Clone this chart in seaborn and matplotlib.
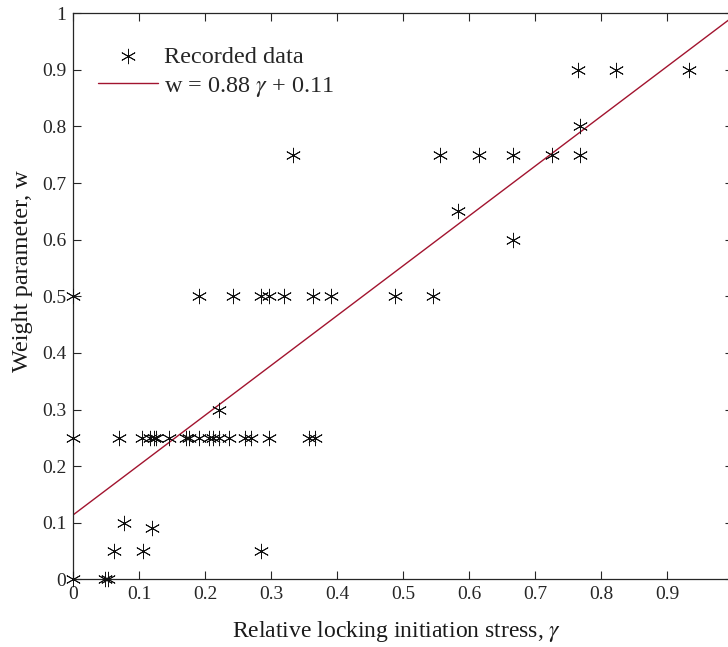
import numpy as np
import pandas as pd
import matplotlib
matplotlib.use("Agg")
import matplotlib.pyplot as plt
import seaborn as sns

# Recorded data (relative locking initiation stress gamma, weight parameter w)
gamma = [0.0, 0.048, 0.052,
         0.062, 0.106, 0.285,
         0.119,
         0.077,
         0.0, 0.07, 0.104, 0.117, 0.122, 0.125, 0.145, 0.171, 0.176, 0.19,
         0.205, 0.212, 0.221, 0.236, 0.26, 0.27, 0.296, 0.357, 0.367,
         0.221,
         0.0, 0.191, 0.242, 0.284, 0.296, 0.319, 0.364, 0.39, 0.487, 0.545,
         0.667,
         0.583,
         0.333, 0.556, 0.615, 0.667, 0.726, 0.768,
         0.768,
         0.765, 0.822, 0.933]
w = [0.0, 0.0, 0.0,
     0.05, 0.05, 0.05,
     0.09,
     0.10,
     0.25, 0.25, 0.25, 0.25, 0.25, 0.25, 0.25, 0.25, 0.25, 0.25,
     0.25, 0.25, 0.25, 0.25, 0.25, 0.25, 0.25, 0.25, 0.25,
     0.30,
     0.5, 0.5, 0.5, 0.5, 0.5, 0.5, 0.5, 0.5, 0.5, 0.5,
     0.60,
     0.65,
     0.75, 0.75, 0.75, 0.75, 0.75, 0.75,
     0.80,
     0.90, 0.90, 0.90]

# Linear fit shown in the legend
slope = 0.88
intercept = 0.114
fit_x = [0.0, 1.0]
fit_label = "w = 0.88 $\\gamma$ + 0.11"

ticks = [0, 0.1, 0.2, 0.3, 0.4, 0.5, 0.6, 0.7, 0.8, 0.9, 1]
tick_labels = ["0", "0.1", "0.2", "0.3", "0.4", "0.5", "0.6", "0.7", "0.8", "0.9", "1"]

sns.set_style("ticks")
plt.rcParams["font.family"] = ["Liberation Serif", "DejaVu Serif"]
plt.rcParams["mathtext.fontset"] = "stix"

fig = plt.figure(figsize=(7.28, 6.47), dpi=100)
ax = fig.add_axes([73.3 / 728, 1 - 579.3 / 647, (733 - 73.3) / 728, 566 / 647])

df = pd.DataFrame({"gamma": gamma, "w": w})
fit_df = pd.DataFrame({"gamma": fit_x, "w": [slope * v + intercept for v in fit_x]})

sns.scatterplot(data=df, x="gamma", y="w", ax=ax, marker=(6, 2, 0), color="#111111",
                s=110, linewidth=0.65, label="Recorded data", zorder=3, clip_on=False)
sns.lineplot(data=fit_df, x="gamma", y="w", ax=ax, color="#A2142F", linewidth=1.0,
             label=fit_label, zorder=2)

ax.set_xlim(0, 1)
ax.set_ylim(0, 1)
ax.set_xticks(ticks)
ax.set_xticklabels(tick_labels)
ax.set_yticks(ticks)
ax.set_yticklabels(tick_labels)
ax.tick_params(direction="in", length=6, width=0.8, top=True, right=True,
               labelsize=14, colors="#262626", pad=5)
for sp in ax.spines.values():
    sp.set_linewidth(0.9)
    sp.set_color("#262626")
    sp.set_visible(True)

ax.set_xlabel("Relative locking initiation stress, $\\gamma$", fontsize=17, color="#1a1a1a")
ax.set_ylabel("Weight parameter, w", fontsize=17.5, color="#1a1a1a")
ax.xaxis.set_label_coords(0.49, -0.071)
ax.yaxis.set_label_coords(-0.061, 0.545)

leg = ax.legend(loc="upper left", bbox_to_anchor=(0.038, 0.943), frameon=False,
                fontsize=17.5, handlelength=2.45, handletextpad=0.25, borderpad=0,
                labelspacing=0.3, borderaxespad=0)

fig.savefig("out.png", dpi=100)
